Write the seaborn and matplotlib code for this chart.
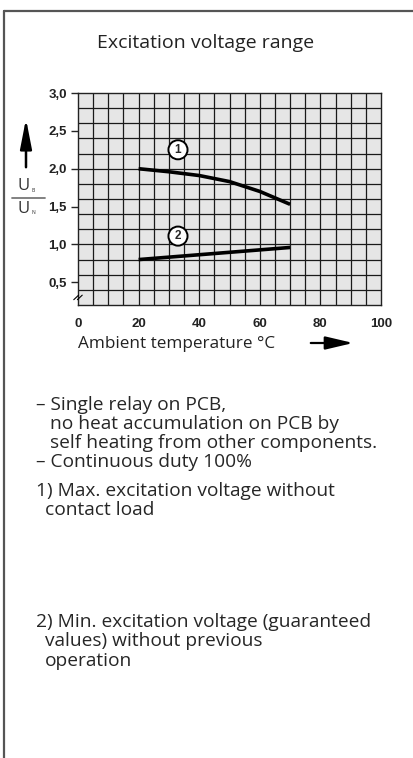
import matplotlib
matplotlib.use("Agg")
import matplotlib.pyplot as plt
import seaborn as sns
import pandas as pd
from matplotlib.lines import Line2D
from matplotlib.patches import FancyArrowPatch

# ---- data ----
temp_max = [20, 30, 40, 50, 60, 70]
volt_max = [2.00, 1.96, 1.91, 1.83, 1.70, 1.53]
temp_min = [20, 70]
volt_min = [0.80, 0.96]
x_ticks = [0, 20, 40, 60, 80, 100]
y_ticks = [0.5, 1.0, 1.5, 2.0, 2.5, 3.0]
y_tick_labels = ["0,5", "1,0", "1,5", "2,0", "2,5", "3,0"]

W, H = 413, 758
sns.set_style("white")
plt.rcParams['font.family'] = ['Open Sans', 'DejaVu Sans']

fig = plt.figure(figsize=(W / 100, H / 100), dpi=100)

def fx(x):
    return x / W

def fy(y):
    return 1 - y / H

# axes placement
L, R, T, B = 78, 381, 93, 305
ax = fig.add_axes([fx(L), fy(B), fx(R - L), (B - T) / H])
ax.set_facecolor("#e6e6e6")

df1 = pd.DataFrame({"t": temp_max, "u": volt_max, "s": "1"})
df2 = pd.DataFrame({"t": temp_min, "u": volt_min, "s": "2"})
sns.lineplot(data=df1, x="t", y="u", ax=ax, color="black", lw=2.6,
             solid_capstyle="butt")
sns.lineplot(data=df2, x="t", y="u", ax=ax, color="black", lw=2.6,
             solid_capstyle="butt")

ax.set_xlim(0, 100)
ax.set_ylim(0.2, 3.0)
ax.set_xticks(x_ticks)
ax.set_yticks(y_ticks)
ax.set_yticklabels(y_tick_labels)
# grid: every 5 °C and every 0.2
for xv in range(5, 100, 5):
    ax.axvline(xv, color="#1a1a1a", lw=0.9, zorder=0.5)
yv = 0.4
while yv < 2.99:
    ax.axhline(yv, color="#1a1a1a", lw=0.9, zorder=0.5)
    yv += 0.2
ax.grid(False)
ax.tick_params(axis="x", which="major", length=0, pad=9)
ax.tick_params(axis="y", which="major", length=5, width=1, pad=3, left=True)
for lab in ax.get_xticklabels() + ax.get_yticklabels():
    lab.set_fontfamily("Liberation Sans")
    lab.set_fontsize(9.5)
    lab.set_fontweight("bold")
    lab.set_color("#222222")
for s in ax.spines.values():
    s.set_color("#222222")
    s.set_linewidth(1.0)
ax.set_xlabel("")
ax.set_ylabel("")

# circled curve labels
for txt, (x, y) in [("1", (33, 2.25)), ("2", (33, 1.11))]:
    ax.text(x, y, txt, ha="center", va="center", fontsize=8.5,
            fontfamily="Liberation Sans", fontweight="bold", zorder=5,
            bbox=dict(boxstyle="circle,pad=0.3", fc="white", ec="black", lw=1.4))

# axis break mark
for dx in (-0.6, 0.6):
    ax.plot([dx - 0.8, dx + 0.8], [0.27, 0.33], color="black", lw=0.8,
            clip_on=False, zorder=6)

# frame
fig.add_artist(Line2D([fx(4), fx(4)], [fy(11), 0], color="#555555", lw=1.6))
fig.add_artist(Line2D([fx(4), 1], [fy(11), fy(11)], color="#555555", lw=1.6))

# title
fig.text(fx(206), fy(43), "Excitation voltage range", ha="center", va="center",
         fontsize=14, color="#222222")

# y label: arrow + fraction
fig.add_artist(FancyArrowPatch(
    (fx(26), fy(170)), (fx(26), fy(116)), transform=fig.transFigure,
    arrowstyle="-|>,head_length=18,head_width=3.5", lw=1.8, color="black",
    mutation_scale=1))
fig.text(fx(24), fy(186), "U", ha="center", va="center", fontsize=12,
         color="#333333")
fig.text(fx(32), fy(190), "B", ha="left", va="center", fontsize=3.5)
fig.add_artist(Line2D([fx(12), fx(45)], [fy(198), fy(198)], color="#777777", lw=1.3))
fig.text(fx(24), fy(209), "U", ha="center", va="center", fontsize=12,
         color="#333333")
fig.text(fx(32), fy(213), "N", ha="left", va="center", fontsize=3.5)

# x label + arrow
fig.text(fx(78), fy(344), "Ambient temperature °C", ha="left", va="center",
         fontsize=12.3, color="#222222")
fig.add_artist(FancyArrowPatch(
    (fx(308), fy(343)), (fx(356), fy(343)), transform=fig.transFigure,
    arrowstyle="-|>,head_length=17,head_width=4", lw=1.6, color="black",
    mutation_scale=1))

# notes: (y pixel, x pixel, text)
notes = [
    (405, 36, "– Single relay on PCB,"),
    (424, 50, "no heat accumulation on PCB by"),
    (443, 50, "self heating from other components."),
    (462, 36, "– Continuous duty 100%"),
    (491, 36, "1) Max. excitation voltage without"),
    (510, 45, "contact load"),
    (622, 36, "2) Min. excitation voltage (guaranteed"),
    (641, 45, "values) without previous"),
    (661, 45, "operation"),
]
for y, x, t in notes:
    fig.text(fx(x), fy(y), t, ha="left", va="center", fontsize=13.8,
             color="#262626")

fig.savefig("out.png", dpi=100)
